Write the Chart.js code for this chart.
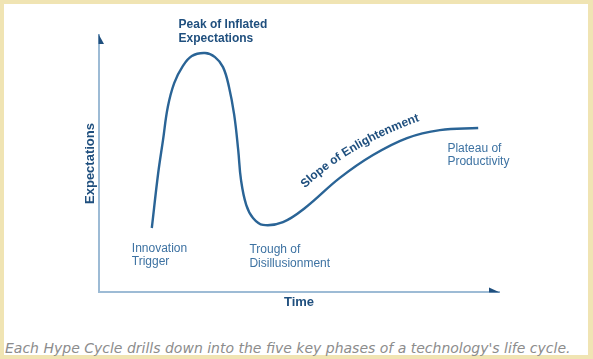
<!DOCTYPE html>
<html>
<head>
<meta charset="utf-8">
<script src="https://cdn.jsdelivr.net/npm/chart.js@4"></script>
<style>
    html, body { margin: 0; padding: 0; }
    body { width: 593px; height: 359px; background: #f0e4b3; position: relative; overflow: hidden; }
    .panel { position: absolute; left: 4px; top: 4px; width: 584px; height: 351px; background: #ffffff; }
    #hypeChart { position: absolute; left: 0; top: 0; }
    .caption {
        position: absolute; left: 5px; top: 340px;
        font-family: "DejaVu Sans", Verdana, sans-serif; font-style: italic;
        font-size: 14px; line-height: 16px; color: #8c8c8c; white-space: nowrap;
    }
</style>
</head>
<body>
<div class="panel"></div>
<canvas id="hypeChart" width="593" height="330"></canvas>
<div class="caption">Each Hype Cycle drills down into the five key phases of a technology's life cycle.</div>

<script>
/* ============================================================
   DATOS — curva del Hype Cycle (tiempo 0-100, expectativas 0-100)
============================================================ */
const hypeTime        = [13.2, 14.8, 16.0, 17.2, 18.8, 20.8, 23.2, 26.5, 29.0, 31.0, 32.5, 33.8, 34.8, 35.5, 36.8, 38.5, 41.0, 46.0, 51.5, 60.2, 68.5, 77.0, 85.2, 94.8];
const hypeExpectation = [24.9, 46.3, 59.1, 72.0, 81.3, 87.5, 91.8, 93.0, 91.4, 87.5, 79.8, 68.9, 55.3, 43.6, 33.9, 28.8, 26.1, 27.2, 32.7, 44.4, 53.3, 59.9, 63.0, 63.8];

const axisTitles = ["Time", "Expectations"];

// fases: texto + anclaje en unidades de datos (x izq., y centro primera línea)
const phaseNames  = [["Peak of Inflated", "Expectations"], ["Innovation", "Trigger"], ["Trough of", "Disillusionment"], ["Plateau of", "Productivity"]];
const phaseAnchor = [[19.9, 103.9], [8.2, 17.0], [37.6, 16.3], [87.1, 55.9]];
const phaseBold   = [true, false, false, false];

const slopeText = "Slope of Enlightenment";
const slopePath = [[51.0, 39.7], [62.8, 57.2], [80.8, 66.9]];

/* ============================================================
   COLORES
============================================================ */
const colCurve = "#2a6496";
const colDark  = "#1f4f7e";
const colLight = "#3d72a2";
const colAxis  = "#9dbbd5";

/* ============================================================
   PLUGIN — flechas de ejes + rótulos de fases
============================================================ */
const hypeDecor = {
    id: "hypeDecor",
    afterDraw(chart) {
        const { ctx, chartArea: ca, scales: { x, y } } = chart;
        ctx.save();

        // flechas (media punta, como el original)
        ctx.fillStyle = colDark;
        ctx.beginPath();
        ctx.moveTo(ca.left - 0.5, ca.top - 1);
        ctx.lineTo(ca.left + 5, ca.top + 9);
        ctx.lineTo(ca.left - 0.5, ca.top + 9);
        ctx.closePath();
        ctx.fill();

        ctx.beginPath();
        ctx.moveTo(ca.right + 1, ca.bottom + 0.5);
        ctx.lineTo(ca.right - 10, ca.bottom - 4.5);
        ctx.lineTo(ca.right - 10, ca.bottom + 0.5);
        ctx.closePath();
        ctx.fill();

        // rótulos de fases
        ctx.textAlign = "left";
        ctx.textBaseline = "middle";
        phaseNames.forEach((lines, i) => {
            const px = x.getPixelForValue(phaseAnchor[i][0]);
            const py = y.getPixelForValue(phaseAnchor[i][1]);
            ctx.font = (phaseBold[i] ? "bold " : "") + "12px 'Liberation Sans', Arial, sans-serif";
            ctx.fillStyle = phaseBold[i] ? colDark : colLight;
            lines.forEach((t, k) => ctx.fillText(t, px, py + k * 13.5));
        });

        // "Slope of Enlightenment" siguiendo la curva
        const P = slopePath.map(p => [x.getPixelForValue(p[0]), y.getPixelForValue(p[1])]);
        const at = t => {
            const u = 1 - t;
            return [u * u * P[0][0] + 2 * u * t * P[1][0] + t * t * P[2][0],
                    u * u * P[0][1] + 2 * u * t * P[1][1] + t * t * P[2][1]];
        };
        const N = 200, lens = [0];
        let prev = at(0);
        for (let i = 1; i <= N; i++) {
            const p = at(i / N);
            lens.push(lens[i - 1] + Math.hypot(p[0] - prev[0], p[1] - prev[1]));
            prev = p;
        }
        const tAt = s => {
            let i = 1;
            while (i < N && lens[i] < s) i++;
            const f = (s - lens[i - 1]) / Math.max(1e-6, lens[i] - lens[i - 1]);
            return (i - 1 + f) / N;
        };
        ctx.font = "bold 12px 'Liberation Sans', Arial, sans-serif";
        ctx.fillStyle = colDark;
        ctx.textAlign = "center";
        ctx.textBaseline = "alphabetic";
        const total = ctx.measureText(slopeText).width;
        let s = (lens[N] - total) / 2;
        for (const ch of slopeText) {
            const w = ctx.measureText(ch).width;
            const t = tAt(s + w / 2);
            const p = at(t), q = at(Math.min(1, t + 0.01)), r = at(Math.max(0, t - 0.01));
            ctx.save();
            ctx.translate(p[0], p[1]);
            ctx.rotate(Math.atan2(q[1] - r[1], q[0] - r[0]));
            ctx.fillText(ch, 0, 0);
            ctx.restore();
            s += w;
        }

        ctx.restore();
    }
};

/* ============================================================
   GRÁFICO
============================================================ */
const ctx = document.getElementById("hypeChart");
new Chart(ctx, {
    type: "line",
    data: {
        datasets: [{
            data: hypeTime.map((t, i) => ({ x: t, y: hypeExpectation[i] })),
            borderColor: colCurve,
            borderWidth: 2.4,
            pointRadius: 0,
            tension: 0.4,
            fill: false,
            clip: false
        }]
    },
    options: {
        responsive: false,
        animation: false,
        events: [],
        layout: { padding: { left: 78.4, right: 94, top: 35, bottom: 15.4 } },
        plugins: { legend: { display: false }, tooltip: { enabled: false } },
        scales: {
            x: {
                type: "linear", min: 0, max: 100,
                grid: { display: false, drawTicks: false },
                border: { color: colAxis, width: 2 },
                ticks: { display: false },
                title: {
                    display: true, text: axisTitles[0], color: colDark,
                    font: { family: "'Liberation Sans', Arial, sans-serif", size: 13, weight: "bold" },
                    padding: { top: 3, bottom: 4 }
                }
            },
            y: {
                type: "linear", min: 0, max: 100,
                grid: { display: false, drawTicks: false },
                border: { color: colAxis, width: 2 },
                ticks: { display: false },
                title: {
                    display: true, text: axisTitles[1], color: colDark,
                    font: { family: "'Liberation Sans', Arial, sans-serif", size: 13, weight: "bold" },
                    padding: { top: 4, bottom: 1 }
                }
            }
        }
    },
    plugins: [hypeDecor]
});
</script>
</body>
</html>
